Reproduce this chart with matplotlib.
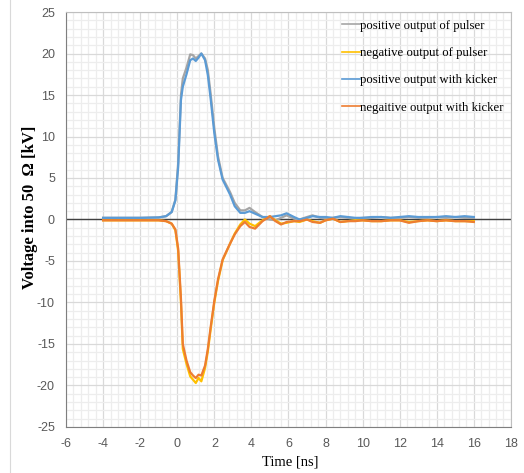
import numpy as np
import matplotlib.pyplot as plt
from matplotlib.ticker import MultipleLocator

plt.rcParams["axes.unicode_minus"] = False

t = [-4, -3, -2, -1, -0.6, -0.3, -0.1, 0.05, 0.2, 0.3, 0.5, 0.7, 0.85, 1.0, 1.15, 1.3, 1.5,
     1.65, 1.8, 2.0, 2.2, 2.45, 2.85, 3.1, 3.4, 3.65, 3.9, 4.2, 4.6, 5.0, 5.3, 5.6, 5.9,
     6.3, 6.6, 7.0, 7.3, 7.7, 8.0, 8.4, 8.8, 9.2, 9.6, 10.0, 10.5, 11.0, 11.5, 12.0, 12.5,
     13.0, 13.5, 14.0, 14.5, 15.0, 15.5, 16.0]

pos_pulser = [0.2, 0.2, 0.2, 0.25, 0.4, 0.9, 2.4, 6.8, 15.0, 17.0, 18.3, 19.9, 19.8, 19.4,
              19.7, 20.0, 19.4, 18.0, 15.2, 11.0, 7.6, 5.0, 3.3, 2.0, 1.1, 1.1, 1.4, 0.9,
              0.3, 0.0, -0.1, 0.2, 0.5, 0.1, 0.0, 0.3, 0.5, 0.2, 0.1, 0.2, 0.3, 0.2, 0.1,
              0.2, 0.2, 0.3, 0.2, 0.2, 0.3, 0.2, 0.2, 0.3, 0.2, 0.3, 0.2, 0.2]
neg_pulser = [-0.1, -0.1, -0.1, -0.1, -0.2, -0.5, -1.3, -3.8, -10.0, -15.6, -17.4, -18.9,
              -19.3, -19.7, -19.1, -19.5, -17.9, -15.9, -13.3, -10.0, -7.4, -4.9, -2.9,
              -1.7, -0.6, 0.0, -0.5, -0.8, -0.1, 0.4, -0.1, -0.5, -0.4, -0.2, -0.3, 0.0,
              -0.2, -0.4, -0.1, 0.1, -0.3, -0.2, -0.1, -0.1, -0.2, -0.2, -0.1, -0.1, -0.3,
              -0.2, -0.1, -0.2, -0.1, -0.2, -0.2, -0.2]
pos_kicker = [0.2, 0.2, 0.2, 0.25, 0.4, 0.9, 2.3, 6.3, 14.4, 16.0, 17.5, 19.2, 19.4, 19.1,
              19.5, 20.0, 19.2, 17.4, 14.6, 10.4, 7.2, 4.8, 3.0, 1.6, 0.8, 0.8, 1.0, 0.7,
              0.3, 0.3, 0.4, 0.5, 0.75, 0.3, 0.0, 0.2, 0.4, 0.3, 0.3, 0.2, 0.4, 0.3, 0.2,
              0.2, 0.3, 0.3, 0.2, 0.3, 0.4, 0.3, 0.3, 0.3, 0.4, 0.3, 0.4, 0.3]
neg_kicker = [-0.1, -0.1, -0.1, -0.1, -0.2, -0.5, -1.2, -3.5, -9.5, -15.0, -17.0, -18.4,
              -18.8, -19.1, -18.7, -18.8, -17.6, -15.6, -13.0, -9.8, -7.2, -4.8, -2.9,
              -1.8, -0.8, -0.3, -0.9, -1.1, -0.2, 0.4, -0.2, -0.6, -0.3, -0.2, -0.2, 0.0,
              -0.3, -0.4, -0.1, 0.1, -0.3, -0.2, -0.2, -0.1, -0.2, -0.2, -0.1, -0.1, -0.4,
              -0.2, -0.1, -0.2, -0.1, -0.2, -0.2, -0.3]

labels = ["positive output of pulser", "negative output of pulser",
          "positive output with kicker", "negaitive output with kicker"]
colors = ["#A5A5A5", "#FFC000", "#5B9BD5", "#ED7D31"]

fig = plt.figure(figsize=(5.24, 4.73), dpi=100)
ax = fig.add_axes([0.126, 0.0973, 0.849, 0.8773])

for y, lab, c in zip([pos_pulser, neg_pulser, pos_kicker, neg_kicker], labels, colors):
    ax.plot(t, y, color=c, lw=1.6, label=lab, solid_joinstyle="round")

ax.axhline(0, color="#404040", lw=1.0, zorder=1)

ax.set_xlim(-6, 18)
ax.set_ylim(-25, 25)
ax.xaxis.set_major_locator(MultipleLocator(2))
ax.xaxis.set_minor_locator(MultipleLocator(0.4))
ax.yaxis.set_major_locator(MultipleLocator(5))
ax.yaxis.set_minor_locator(MultipleLocator(1))
ax.grid(which="major", color="#D9D9D9", lw=0.9)
ax.grid(which="minor", color="#EDEDED", lw=0.9)
ax.set_axisbelow(True)
ax.tick_params(which="both", length=0, colors="#595959", labelsize=9, pad=8)
for lbl in ax.get_xticklabels() + ax.get_yticklabels():
    lbl.set_family(["Liberation Sans Narrow", "Liberation Sans"])
for s in ["left", "bottom"]:
    ax.spines[s].set_color("#7F7F7F")
for s in ["top", "right"]:
    ax.spines[s].set_color("#BFBFBF")

ax.set_xlabel("Time [ns]", family="Liberation Serif", fontsize=10.5)
ax.xaxis.set_label_coords(0.505, -0.068)
ax.set_ylabel("Voltage into 50  Ω [kV]", family="Liberation Serif", fontsize=12,
              fontweight="bold")
ax.yaxis.set_label_coords(-0.063, 0.53)

leg = ax.legend(loc="upper right", frameon=False, handlelength=1.4, handletextpad=0.0,
                labelspacing=1.2, borderaxespad=0.2, bbox_to_anchor=(1.0, 1.0),
                prop={"family": "Liberation Serif", "size": 9.2})
for h in leg.get_lines():
    h.set_linewidth(1.2)

fig.add_artist(plt.Line2D([0.019, 0.019], [0.0, 1.0], color="#D9D9D9", lw=0.8))

fig.savefig("out.png", dpi=100)
